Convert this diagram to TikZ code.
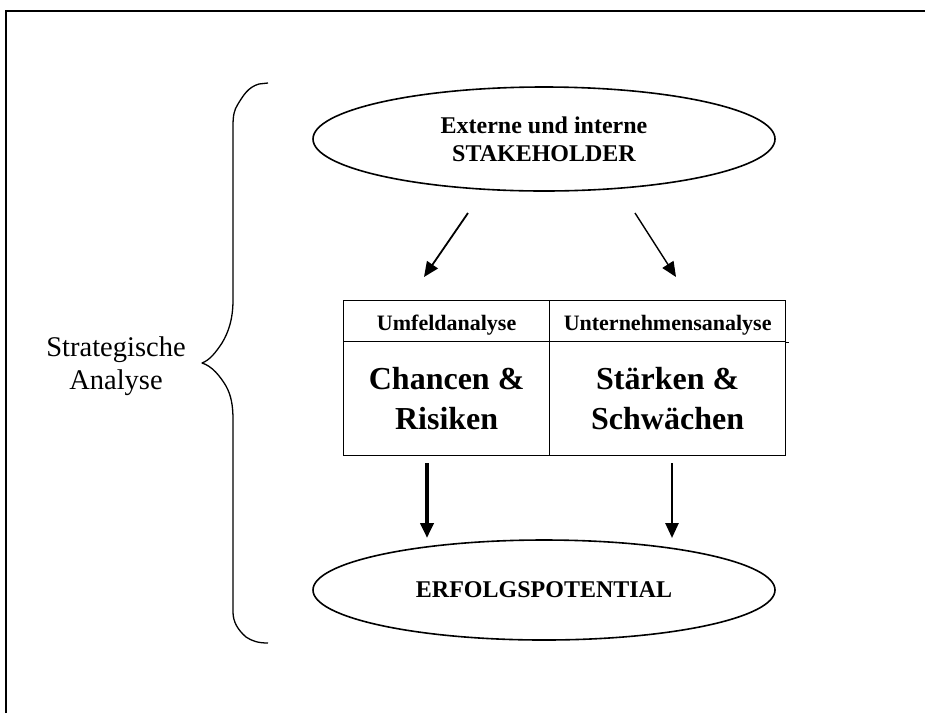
\documentclass[tikz,border=0pt]{standalone}
\usepackage{fontspec}
\setmainfont{Liberation Serif}
\usetikzlibrary{arrows.meta,shapes.geometric}
\begin{document}
\begin{tikzpicture}[x=1pt,y=-1pt,
  oval/.style={draw,line width=1.6pt,ellipse,inner sep=0pt,font=\bfseries\fontsize{24}{28}\selectfont,align=center},
  cellbox/.style={draw,line width=1.3pt,rectangle,inner sep=0pt,anchor=north west,align=center},
  headtext/.style={font=\bfseries\fontsize{22}{26}\selectfont,text height=24pt,text depth=5pt},
  bigtext/.style={font=\bfseries\fontsize{32}{40}\selectfont},
  slant/.style={line width=1.8pt,-{Triangle[length=15pt,width=13pt]}},
  down/.style={-{Triangle[length=15pt,width=13pt]}}
]
\useasboundingbox (0,0) rectangle (925,713);
% outer frame (top and left edges only visible)
\draw[line width=1.2pt] (6,713) -- (6,11) -- (925,11);

% ellipses
\node[oval,minimum width=462pt,minimum height=104pt] (stake) at (544,139)
  {Externe und interne\\STAKEHOLDER};
\node[oval,minimum width=462pt,minimum height=100pt] (erfolg) at (544,590)
  {ERFOLGSPOTENTIAL};

% table
\node[cellbox,headtext,minimum width=206pt,minimum height=41pt] (umf) at (343,300) {Umfeldanalyse};
\node[cellbox,headtext,minimum width=236pt,minimum height=41pt] (unt) at (549,300) {Unternehmensanalyse};
\node[cellbox,bigtext,minimum width=206pt,minimum height=114pt] (cr) at (343,341) {Chancen \&\\Risiken};
\node[cellbox,bigtext,minimum width=236pt,minimum height=114pt] (sw) at (549,341) {Stärken \&\\Schwächen};
\draw[line width=1.3pt] (unt.south east) -- ++(3,0);

% arrow end points
\coordinate (la1) at (468,213);
\coordinate (la2) at (424,277);
\coordinate (ra1) at (635,213);
\coordinate (ra2) at (676,277);
\coordinate (lb1) at (427,463);
\coordinate (lb2) at (427,538);
\coordinate (rb1) at (672,463);
\coordinate (rb2) at (672,538);
\draw[slant] (la1) -- (la2);
\draw[slant,line width=1.4pt] (ra1) -- (ra2);
\draw[down,line width=4pt] (lb1) -- (lb2);
\draw[down,line width=2.6pt] (rb1) -- (rb2);

% curly brace
\draw[line width=1.3pt,line join=round]
  (268,83) -- (259,84)
  .. controls (248,87) and (243,96) .. (238,104)
  .. controls (234,110) and (233,116) .. (233,126)
  -- (233,300)
  .. controls (233,320) and (228,333) .. (222,343)
  .. controls (216,352) and (210,360) .. (202,363)
  .. controls (212,366) and (220,376) .. (226,386)
  .. controls (231,395) and (233,405) .. (233,420)
  -- (233,612)
  .. controls (233,622) and (238,630) .. (246,637)
  .. controls (252,641) and (258,643) .. (268,643);

% brace label
\node[font=\fontsize{28.5}{33}\selectfont,align=center] (label) at (116,366) {Strategische\\Analyse};
\end{tikzpicture}
\end{document}
